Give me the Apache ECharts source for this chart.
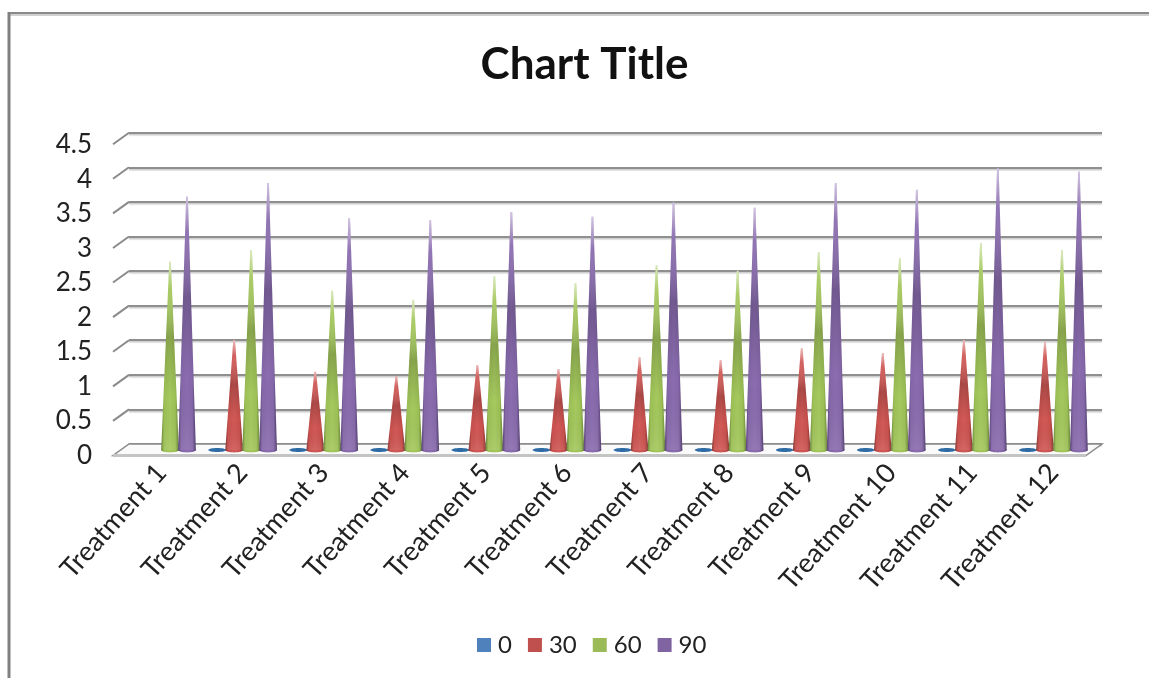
<!DOCTYPE html>
<html>
<head>
<meta charset="utf-8">
<style>html,body{margin:0;padding:0;background:#fff}#chart{width:1149px;height:678px}</style>
<script src="https://cdn.jsdelivr.net/npm/echarts@6/dist/echarts.min.js"></script>
</head>
<body>
<div id="chart"></div>
<script>
// Cone heights per treatment; null marks a cone that is not drawn.
const categories = ['Treatment 1','Treatment 2','Treatment 3','Treatment 4','Treatment 5','Treatment 6','Treatment 7','Treatment 8','Treatment 9','Treatment 10','Treatment 11','Treatment 12'];
const values0  = [null,0,0,0,0,0,0,0,0,0,0,0];
const values30 = [null,1.59,1.13,1.07,1.23,1.17,1.34,1.3,1.47,1.4,1.59,1.56];
const values60 = [2.72,2.89,2.3,2.17,2.51,2.41,2.67,2.59,2.86,2.77,2.99,2.89];
const values90 = [3.66,3.86,3.35,3.32,3.44,3.37,3.58,3.5,3.86,3.76,4.07,4.02];
const seriesNames = ['0','30','60','90'];
const tickValues = [0,0.5,1,1.5,2,2.5,3,3.5,4,4.5];

const FONT = 'Lato, "Open Sans", sans-serif';
const DEPTH_X = -16, DEPTH_Y = 11.5;
const palette = [
  {legend:'#4f81bd', edge:'#2a5a8c', mid:'#4f81bd', light:'#3f76ad'},
  {legend:'#c0504d', edge:'#7d2b29', mid:'#d05a57', light:'#c9504d'},
  {legend:'#9bbb59', edge:'#5f7a2c', mid:'#a6c95f', light:'#9cc055'},
  {legend:'#8064a2', edge:'#4a3368', mid:'#8b6db0', light:'#8467a8'}
];

// One series of cones: a side-shaded taper on an elliptical base, faded at the tip.
function coneSeries(name, values, slot) {
  const c = palette[slot];
  const bandOffset = (slot - 1.5) * 0.2096;
  const sideFill = {type:'linear', x:0, y:0, x2:1, y2:0, colorStops:[
    {offset:0, color:c.edge},{offset:0.16, color:c.light},{offset:0.5, color:c.mid},
    {offset:0.8, color:c.light},{offset:1, color:c.edge}]};
  return {
    name, type:'custom', xAxisIndex:1, yAxisIndex:1, coordinateSystem:'cartesian2d', z:5 + slot,
    itemStyle:{color:c.legend}, clip:false, encode:{x:0, y:1},
    data: values.map((v,i)=>[i,v]).filter(d=>d[1]!==null),
    renderItem(params, api) {
      const i = api.value(0), v = api.value(1);
      const band = api.size([1,0])[0];
      const base = api.coord([i,0]), top = api.coord([i,v]);
      const x = base[0] + bandOffset*band, half = band*0.109;
      if (v === 0) {
        return {type:'ellipse', shape:{cx:x, cy:base[1], rx:half, ry:2}, style:{fill:'#2f6ca6'}};
      }
      const outline = [[x-half,base[1]],[x+half,base[1]],[x+0.8,top[1]],[x-0.8,top[1]]];
      return {type:'group', children:[
        {type:'ellipse', shape:{cx:x, cy:base[1], rx:half, ry:2.4}, style:{fill:sideFill}},
        {type:'polygon', shape:{points:outline}, style:{fill:sideFill}},
        {type:'polygon', shape:{points:outline}, style:{fill:{type:'linear', x:0, y:0, x2:0, y2:1, colorStops:[
          {offset:0, color:'rgba(255,255,255,0.6)'},{offset:0.14, color:'rgba(255,255,255,0.05)'},
          {offset:0.4, color:'rgba(0,0,0,0.18)'},{offset:0.72, color:'rgba(0,0,0,0)'},{offset:1, color:'rgba(255,255,255,0.08)'}]}}}
      ]};
    }
  };
}

const chart = echarts.init(document.getElementById('chart'), null, {renderer:'canvas'});
chart.setOption({
  animation:false,
  backgroundColor:'#fff',
  title:{text:'Chart Title', left:579.5, top:38, textAlign:'center', textStyle:{fontFamily:FONT, fontWeight:'bold', fontSize:44, color:'#111'}},
  legend:{data:seriesNames, left:477, top:633, padding:0, itemGap:16, itemWidth:14, itemHeight:14, icon:'rect',
    itemStyle:{borderWidth:0}, textStyle:{fontFamily:FONT, fontSize:24, color:'#222', padding:[0,0,0,2]}},
  // back wall, cone plane, front edge carrying the value labels
  grid:[
    {left:129, right:47, top:132.7, bottom:234},
    {left:121, right:55, top:138.6, bottom:228},
    {left:113, right:62, top:145, bottom:222.5}
  ],
  xAxis:[
    {gridIndex:0, type:'category', data:categories, show:false},
    {gridIndex:1, type:'category', data:categories, axisLine:{show:false}, axisTick:{show:false},
      axisLabel:{interval:0, rotate:48, margin:18, fontFamily:FONT, fontSize:27, color:'#222'}},
    {gridIndex:2, type:'category', data:categories, show:false}
  ],
  yAxis:[
    {gridIndex:0, type:'value', min:0, max:4.5, interval:0.5, axisLine:{show:false}, axisTick:{show:false}, axisLabel:{show:false},
      splitLine:{lineStyle:{color:'#8f8f8f', width:2, shadowColor:'rgba(150,150,150,0.5)', shadowOffsetY:1.5, shadowBlur:1}}},
    {gridIndex:1, type:'value', min:0, max:4.5, interval:0.5, show:false, splitLine:{show:false}},
    {gridIndex:2, type:'value', min:0, max:4.5, interval:0.5, axisLine:{show:false}, axisTick:{show:false}, splitLine:{show:false},
      axisLabel:{margin:21, fontFamily:FONT, fontSize:26, color:'#222'}}
  ],
  series:[
    // floor slab and the short slanted ticks leading to the wall lines
    {type:'custom', xAxisIndex:0, yAxisIndex:0, z:3, silent:true, clip:false, data:tickValues.map(v=>[0,v]), encode:{x:0,y:1},
      renderItem(params, api) {
        const v = api.value(1), y = api.coord([0,v])[1];
        const L = params.coordSys.x, R = L + params.coordSys.width;
        const stroke = {stroke:'#8a8a8a', lineWidth:2, fill:null};
        if (v !== 0) return {type:'line', shape:{x1:L, y1:y, x2:L+DEPTH_X, y2:y+DEPTH_Y}, style:stroke};
        return {type:'group', children:[
          {type:'polygon', shape:{points:[[L,y],[R,y],[R+DEPTH_X,y+DEPTH_Y],[L+DEPTH_X,y+DEPTH_Y]]},
            style:{fill:'#fafafa', stroke:'#8a8a8a', lineWidth:1.5}},
          {type:'line', shape:{x1:L+DEPTH_X, y1:y+DEPTH_Y, x2:R+DEPTH_X, y2:y+DEPTH_Y}, style:{stroke:'#c4c4c4', lineWidth:3}}
        ]};
      }},
    coneSeries('0', values0, 0),
    coneSeries('30', values30, 1),
    coneSeries('60', values60, 2),
    coneSeries('90', values90, 3)
  ],
  graphic:[
    {type:'line', silent:true, shape:{x1:9, y1:13, x2:1149, y2:13}, style:{stroke:'#8a8a8a', lineWidth:2}},
    {type:'line', silent:true, shape:{x1:10, y1:15, x2:1149, y2:15}, style:{stroke:'#d0d0d0', lineWidth:2}},
    {type:'line', silent:true, shape:{x1:9, y1:12, x2:9, y2:678}, style:{stroke:'#808080', lineWidth:3}}
  ]
});
</script>
</body>
</html>
